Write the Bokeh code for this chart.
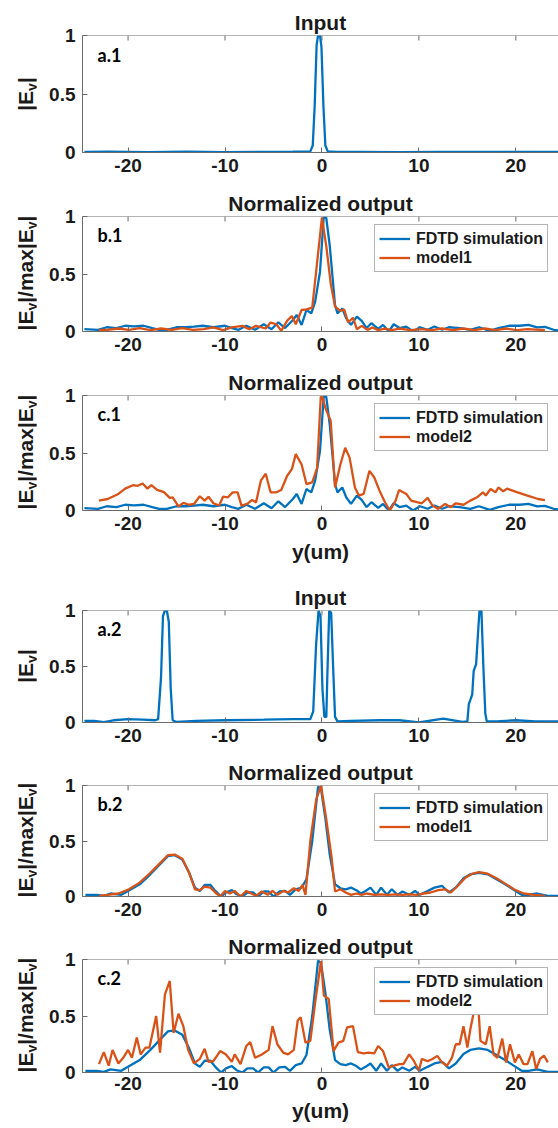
from bokeh.plotting import figure
from bokeh.models import Range1d, FixedTicker, Label, Legend, LegendItem, Span, Div
from bokeh.layouts import column, row
from bokeh.embed import file_html
from bokeh.resources import INLINE

# ---------------- data (y in um, normalized |Ey|) ----------------
x_ticks = [-20, -10, 0, 10, 20]
x_tick_labels = ["-20", "-10", "0", "10", "20"]
y_ticks = [0, 0.5, 1]
y_tick_labels = ["0", "0.5", "1"]

input1 = [(-24.5, 0.005), (-22, 0.007), (-18, 0.004), (-14, 0.008), (-10, 0.003), (-6, 0.006),
          (-3, 0.008), (-1.2, 0.01), (-0.95, 0.06), (-0.75, 0.4), (-0.55, 0.92), (-0.4, 1.0),
          (-0.2, 1.0), (-0.05, 0.9), (0.15, 0.4), (0.35, 0.06), (0.6, 0.01), (1.5, 0.005),
          (4, 0.006), (8, 0.004), (12, 0.006), (16, 0.005), (20, 0.006), (24.6, 0.004)]

fdtd1 = [(-24.5, 0.02), (-23.1, 0.015), (-22.2, 0.037), (-21.2, 0.03), (-20.3, 0.05), (-19.4, 0.045),
         (-18.4, 0.05), (-17.5, 0.03), (-16.8, 0.015), (-16.0, 0.015), (-15.0, 0.037), (-14.1, 0.037),
         (-13.2, 0.043), (-12.3, 0.05), (-11.2, 0.037), (-10.0, 0.05), (-9.3, 0.03), (-8.6, 0.015),
         (-7.8, 0.05), (-6.9, 0.015), (-6.0, 0.063), (-5.2, 0.02), (-4.5, 0.08), (-3.8, 0.03),
         (-3.0, 0.1), (-2.6, 0.144), (-2.1, 0.057), (-1.6, 0.187), (-1.1, 0.158), (-0.7, 0.26),
         (-0.2, 0.52), (0.18, 0.99), (0.44, 0.99), (0.8, 0.75), (1.35, 0.23), (1.6, 0.158),
         (2.1, 0.2), (2.5, 0.115), (3.0, 0.057), (3.6, 0.13), (4.1, 0.092), (4.6, 0.03),
         (5.1, 0.072), (5.8, 0.023), (6.3, 0.057), (6.9, 0.0), (7.4, 0.063), (8.0, 0.03),
         (8.7, 0.043), (9.4, 0.0), (10.1, 0.037), (10.9, 0.015), (11.6, 0.043), (12.4, 0.015),
         (13.1, 0.037), (14.2, 0.03), (15.3, 0.015), (16.2, 0.037), (17.3, 0.006), (18.2, 0.03),
         (19.3, 0.05), (20.4, 0.05), (21.3, 0.057), (22.2, 0.035), (23.0, 0.04), (23.9, 0.015),
         (24.6, 0.006)]

model1_1 = [(-23.0, 0.014), (-22.1, 0.014), (-21.0, 0.026), (-19.9, 0.014), (-18.8, 0.029),
            (-17.7, 0.012), (-16.6, 0.026), (-15.5, 0.014), (-14.4, 0.029), (-13.3, 0.014),
            (-12.2, 0.02), (-11.2, 0.035), (-10.2, 0.012), (-9.3, 0.035), (-8.2, 0.049),
            (-7.5, 0.02), (-6.8, 0.049), (-5.8, 0.026), (-5.3, 0.078), (-4.7, 0.063),
            (-4.2, 0.006), (-3.6, 0.092), (-3.1, 0.135), (-2.7, 0.063), (-2.1, 0.187),
            (-1.6, 0.193), (-1.0, 0.207), (-0.5, 0.6), (0.0, 0.99), (0.45, 0.74), (0.9, 0.42),
            (1.35, 0.216), (1.9, 0.18), (2.3, 0.19), (2.7, 0.078), (3.2, 0.12), (3.6, 0.02),
            (4.1, 0.049), (4.7, 0.014), (5.2, 0.035), (5.8, 0.012), (6.5, 0.026), (7.2, 0.012),
            (8.0, 0.026), (9.1, 0.012), (10.2, 0.02), (11.3, 0.012), (12.4, 0.026), (13.5, 0.012),
            (14.6, 0.026), (15.7, 0.012), (16.8, 0.026), (17.9, 0.012), (19.0, 0.026),
            (20.1, 0.012), (21.2, 0.02), (23.0, 0.012)]

model2_1 = [(-23.0, 0.086), (-22.1, 0.10), (-21.0, 0.144), (-20.3, 0.19), (-19.5, 0.22), (-19.0, 0.215),
            (-18.5, 0.235), (-18.0, 0.19), (-17.6, 0.22), (-17.0, 0.18), (-16.3, 0.16), (-15.7, 0.11),
            (-15.4, 0.115), (-14.8, 0.035), (-14.3, 0.066), (-13.7, 0.05), (-13.2, 0.057),
            (-12.6, 0.124), (-12.1, 0.086), (-11.7, 0.12), (-11.2, 0.063), (-10.6, 0.043),
            (-10.2, 0.12), (-9.7, 0.115), (-9.2, 0.158), (-8.7, 0.158), (-8.3, 0.043), (-7.7, 0.057),
            (-7.2, 0.092), (-6.8, 0.069), (-6.3, 0.26), (-5.8, 0.32), (-5.3, 0.158), (-4.7, 0.158),
            (-4.2, 0.178), (-3.6, 0.30), (-3.1, 0.36), (-2.7, 0.49), (-2.1, 0.40), (-1.6, 0.23),
            (-1.0, 0.244), (-0.5, 0.37), (-0.12, 0.99), (0.07, 0.98), (0.36, 0.89), (0.9, 0.78),
            (1.35, 0.2), (1.9, 0.40), (2.4, 0.546), (2.85, 0.46), (3.4, 0.2), (3.8, 0.13),
            (4.3, 0.144), (4.9, 0.345), (5.4, 0.287), (5.95, 0.17), (6.5, 0.072), (7.0, 0.0),
            (7.6, 0.086), (7.95, 0.178), (8.7, 0.144), (9.2, 0.086), (9.8, 0.072), (10.3, 0.063),
            (10.9, 0.11), (11.4, 0.043), (12.0, 0.014), (12.7, 0.057), (13.3, 0.029), (13.8, 0.063),
            (14.6, 0.05), (15.3, 0.086), (16.0, 0.115), (16.6, 0.158), (16.9, 0.13), (17.4, 0.187),
            (17.9, 0.158), (18.2, 0.2), (18.7, 0.167), (19.1, 0.19), (20.1, 0.16), (21.2, 0.13),
            (22.3, 0.1), (23.0, 0.09)]

input2 = [(-24.5, 0.015), (-23.5, 0.015), (-22.5, 0.003), (-21.5, 0.02), (-20, 0.03), (-18.5, 0.025),
          (-17.2, 0.02), (-16.9, 0.03), (-16.6, 0.4), (-16.4, 0.95), (-16.2, 1.0), (-16.0, 1.0),
          (-15.8, 0.9), (-15.6, 0.3), (-15.4, 0.02), (-15, 0.005), (-13, 0.015), (-10, 0.02),
          (-6, 0.025), (-3, 0.03), (-1.2, 0.03), (-0.9, 0.1), (-0.6, 0.7), (-0.35, 1.0),
          (-0.15, 0.95), (0.05, 0.3), (0.25, 0.05), (0.45, 0.05), (0.55, 0.4), (0.75, 1.0),
          (0.95, 0.98), (1.15, 0.5), (1.35, 0.05), (1.6, 0.01), (3, 0.015), (6, 0.02), (8, 0.02),
          (10, 0.0), (12.5, 0.035), (14.5, 0.005), (15.0, 0.01), (15.15, 0.165), (15.3, 0.2),
          (15.5, 0.25), (15.65, 0.46), (15.9, 0.52), (16.1, 0.8), (16.25, 1.0), (16.45, 1.0),
          (16.65, 0.5), (16.85, 0.08), (17.0, 0.01), (18, 0.01), (20, 0.02), (22, 0.01), (24.6, 0.01)]

fdtd2 = [(-24.4, 0.015), (-23.2, 0.015), (-22.5, 0.006), (-21.8, 0.027), (-20.7, 0.015), (-20.0, 0.05),
         (-18.8, 0.11), (-17.7, 0.2), (-16.6, 0.3), (-15.9, 0.363), (-15.2, 0.372), (-14.4, 0.333),
         (-13.7, 0.214), (-13.1, 0.08), (-12.6, 0.05), (-12.1, 0.104), (-11.5, 0.104), (-11.0, 0.05),
         (-10.4, 0.0), (-9.9, 0.036), (-9.3, 0.057), (-8.8, 0.02), (-8.2, 0.0), (-7.7, 0.036),
         (-7.1, 0.036), (-6.6, 0.0), (-6.0, 0.045), (-5.5, 0.045), (-5.0, 0.0), (-4.4, 0.045),
         (-3.8, 0.05), (-3.3, 0.015), (-2.7, 0.065), (-2.1, 0.08), (-1.6, 0.155), (-1.0, 0.5),
         (-0.4, 0.99), (-0.1, 0.97), (0.36, 0.7), (0.8, 0.38), (1.35, 0.11), (1.9, 0.074),
         (2.45, 0.065), (3.0, 0.08), (3.55, 0.057), (4.0, 0.027), (4.5, 0.05), (5.0, 0.08),
         (5.6, 0.015), (6.1, 0.08), (6.7, 0.015), (7.2, 0.065), (7.8, 0.015), (8.3, 0.045),
         (9.0, 0.015), (9.6, 0.05), (10.1, 0.015), (10.9, 0.05), (11.6, 0.08), (12.4, 0.095),
         (13.1, 0.036), (13.8, 0.08), (14.6, 0.164), (15.3, 0.2), (16.2, 0.214), (17.1, 0.2),
         (18.0, 0.155), (18.9, 0.11), (19.7, 0.065), (20.6, 0.015), (21.3, 0.015), (22.2, 0.027),
         (23.3, 0.006), (24.6, 0.006)]

model1_2 = [(-23.0, 0.006), (-22.1, 0.015), (-21.0, 0.027), (-19.9, 0.065), (-18.8, 0.125),
            (-17.7, 0.214), (-16.6, 0.31), (-15.9, 0.372), (-15.2, 0.378), (-14.4, 0.34),
            (-13.7, 0.214), (-13.1, 0.065), (-12.6, 0.057), (-12.1, 0.09), (-11.5, 0.08),
            (-11.0, 0.036), (-10.5, 0.0), (-10.0, 0.05), (-9.5, 0.027), (-9.0, 0.05), (-8.4, 0.0),
            (-7.8, 0.05), (-7.3, 0.027), (-6.8, 0.006), (-6.2, 0.045), (-5.6, 0.015), (-5.1, 0.05),
            (-4.6, 0.015), (-4.0, 0.05), (-3.5, 0.036), (-2.9, 0.074), (-2.4, 0.05), (-2.0, 0.104),
            (-1.7, 0.015), (-1.2, 0.5), (-0.6, 0.87), (-0.1, 1.0), (0.44, 0.7), (1.0, 0.35),
            (1.35, 0.045), (1.9, 0.065), (2.45, 0.036), (3.0, 0.015), (3.55, 0.027), (4.1, 0.015),
            (4.6, 0.027), (5.4, 0.015), (6.1, 0.02), (6.8, 0.015), (7.6, 0.02), (8.3, 0.015),
            (9.0, 0.02), (9.8, 0.015), (10.5, 0.027), (11.2, 0.036), (12.0, 0.057), (12.7, 0.065),
            (13.3, 0.036), (14.0, 0.095), (14.8, 0.17), (15.5, 0.205), (16.2, 0.22), (17.1, 0.205),
            (18.0, 0.164), (18.9, 0.116), (19.8, 0.065), (20.8, 0.027), (21.9, 0.015), (23.0, 0.006)]

model2_2 = [(-23.0, 0.074), (-22.5, 0.18), (-22.0, 0.06), (-21.6, 0.2), (-21.0, 0.08), (-20.5, 0.13),
            (-20.0, 0.2), (-19.6, 0.13), (-19.1, 0.31), (-18.7, 0.16), (-18.2, 0.22), (-17.8, 0.22),
            (-17.1, 0.5), (-16.7, 0.176), (-16.2, 0.69), (-15.7, 0.81), (-15.3, 0.35), (-14.8, 0.52),
            (-14.3, 0.41), (-13.8, 0.2), (-13.2, 0.08), (-12.6, 0.12), (-12.1, 0.21), (-11.7, 0.094),
            (-11.2, 0.1), (-10.5, 0.19), (-9.9, 0.16), (-9.3, 0.094), (-9.0, 0.16), (-8.4, 0.074),
            (-7.8, 0.235), (-7.4, 0.27), (-6.9, 0.13), (-6.2, 0.16), (-5.5, 0.2), (-5.1, 0.41),
            (-4.6, 0.25), (-4.0, 0.176), (-3.5, 0.16), (-2.9, 0.2), (-2.5, 0.46), (-2.2, 0.49),
            (-1.7, 0.265), (-1.2, 0.28), (-0.7, 0.62), (-0.1, 0.985), (0.2, 0.68), (0.7, 0.65),
            (1.2, 0.19), (1.7, 0.265), (2.2, 0.28), (2.6, 0.40), (3.2, 0.41), (3.7, 0.18),
            (4.3, 0.17), (4.8, 0.176), (5.4, 0.17), (5.8, 0.235), (6.3, 0.19), (6.9, 0.044),
            (7.4, 0.06), (8.0, 0.074), (8.4, 0.074), (9.0, 0.16), (9.5, 0.10), (10.0, 0.015),
            (10.3, 0.12), (10.9, 0.10), (11.4, 0.12), (11.9, 0.147), (12.4, 0.088), (12.9, 0.06),
            (13.4, 0.13), (13.8, 0.25), (14.2, 0.25), (14.6, 0.41), (15.0, 0.22), (15.3, 0.38),
            (15.7, 0.55), (16.1, 0.62), (16.35, 0.28), (16.9, 0.25), (17.3, 0.41), (17.7, 0.16),
            (18.1, 0.13), (18.6, 0.3), (19.0, 0.088), (19.4, 0.25), (19.9, 0.088), (20.3, 0.16),
            (20.8, 0.074), (21.2, 0.074), (21.7, 0.19), (22.1, 0.03), (22.5, 0.12), (22.9, 0.15),
            (23.3, 0.09)]

# ---------------- style ----------------
BLUE = "#0072BD"
ORANGE = "#D95319"
FRAME = "#6b6b6b"
TXT = "#1a1a1a"
FONT = "Liberation Sans"
X0, X1 = -24.7, 24.4
PX_PER_UNIT = 476.0 / (X1 - X0)
DW = 36          # width of the y-label column
W = 558 - DW     # figure width
BL = 82 - DW     # left border of figure -> frame starts at x=82

SUB = '<sub style="font-size:14px;line-height:0;vertical-align:-4px;">y</sub>'
YL_A = f"|E{SUB}|"
YL_B = f"|E{SUB}|/max|E{SUB}|"


def ylabel_div(fig_h, top, H, html_text):
    cy = top + H / 2.0
    html = (f'<div style="position:relative;width:{DW}px;height:{fig_h}px;">'
            f'<div style="position:absolute;left:24.5px;top:{cy}px;'
            f'transform:translate(-50%,-50%) rotate(-90deg);white-space:nowrap;'
            f"font-family:'Liberation Sans',Arial,sans-serif;font-weight:bold;font-size:21px;"
            f'line-height:21px;color:{TXT};">{html_text}</div></div>')
    return Div(text=html, width=DW, height=fig_h, margin=0)


def make_panel(title, top, H, bottom, tag, series, ylabel_html, legend_labels=None,
               xlabel=None, tick_standoff=6, label_standoff=7):
    p = figure(width=W, height=top + H + bottom, x_range=Range1d(X0, X1), y_range=Range1d(0, 1),
               output_backend="svg", toolbar_location=None,
               min_border_left=BL, min_border_right=0, min_border_top=top, min_border_bottom=bottom,
               title=title)
    p.outline_line_color = None
    p.grid.visible = False
    p.background_fill_color = "white"
    p.border_fill_color = "white"
    p.title.align = "center"
    p.title.text_font = FONT
    p.title.text_font_size = "21px"
    p.title.text_font_style = "bold"
    p.title.text_color = TXT
    p.title.standoff = 4

    xa = p.xaxis[0]
    xa.ticker = FixedTicker(ticks=x_ticks)
    xa.major_label_overrides = dict(zip(x_ticks, x_tick_labels))
    ya = p.yaxis[0]
    ya.ticker = FixedTicker(ticks=y_ticks)
    ya.major_label_overrides = dict(zip(y_ticks, y_tick_labels))
    for ax in (xa, ya):
        ax.major_label_text_font = FONT
        ax.major_label_text_font_size = "19px"
        ax.major_label_text_font_style = "bold"
        ax.major_label_text_color = TXT
        ax.axis_line_color = FRAME
        ax.major_tick_line_color = FRAME
        ax.major_tick_in = 5
        ax.major_tick_out = 0
        ax.minor_tick_line_color = None
    xa.major_label_standoff = tick_standoff
    ya.major_label_standoff = 7
    if xlabel:
        xa.axis_label = xlabel
        xa.axis_label_text_font = FONT
        xa.axis_label_text_font_size = "21px"
        xa.axis_label_text_font_style = "bold"
        xa.axis_label_text_color = TXT
        xa.axis_label_standoff = label_standoff

    # top edge of the box with inward ticks (the right edge is cut off in the reference)
    p.add_layout(Span(location=1, dimension="width", line_color=FRAME, line_width=1))
    p.segment(x0=x_ticks, y0=[1] * len(x_ticks), x1=x_ticks, y1=[1 - 5.0 / H] * len(x_ticks),
              line_color=FRAME, line_width=1)

    renderers = []
    for data, color in series:
        xs = [d[0] for d in data]
        ys = [d[1] for d in data]
        renderers.append(p.line(xs, ys, line_color=color, line_width=2.3))

    p.add_layout(Label(x=X0 + 15 / PX_PER_UNIT, y=1 - 8.0 / H, text=tag, text_font="Lato",
                       text_font_style="bold", text_font_size="18px", text_color="black",
                       text_baseline="top", text_align="left"))

    if legend_labels:
        items = [LegendItem(label=lab, renderers=[r]) for lab, r in zip(legend_labels, renderers)]
        leg = Legend(items=items, location=(292, H - 11 - 46))
        leg.label_text_font = FONT
        leg.label_text_font_size = "16px"
        leg.label_text_font_style = "bold"
        leg.label_text_color = TXT
        leg.border_line_color = FRAME
        leg.border_line_width = 1
        leg.background_fill_color = "white"
        leg.background_fill_alpha = 1
        leg.padding = 4
        leg.spacing = 0
        leg.margin = 0
        leg.glyph_width = 31
        leg.glyph_height = 19
        leg.label_height = 19
        leg.label_standoff = 6
        p.add_layout(leg)

    return row(ylabel_div(top + H + bottom, top, H, ylabel_html), p, spacing=0)


r1 = make_panel("Input", 35, 117, 35, "a.1", [(input1, BLUE)], YL_A)
r2 = make_panel("Normalized output", 28, 116, 35, "b.1", [(fdtd1, BLUE), (model1_1, ORANGE)], YL_B,
                ["FDTD simulation", "model1"])
r3 = make_panel("Normalized output", 28, 116, 71, "c.1", [(fdtd1, BLUE), (model2_1, ORANGE)], YL_B,
                ["FDTD simulation", "model2"], xlabel="y(um)", tick_standoff=6, label_standoff=7)
r4 = make_panel("Input", 28, 113, 34, "a.2", [(input2, BLUE)], YL_A)
r5 = make_panel("Normalized output", 28, 112, 34, "b.2", [(fdtd2, BLUE), (model1_2, ORANGE)], YL_B,
                ["FDTD simulation", "model1"])
r6 = make_panel("Normalized output", 28, 114, 56, "c.2", [(fdtd2, BLUE), (model2_2, ORANGE)], YL_B,
                ["FDTD simulation", "model2"], xlabel="y(um)", tick_standoff=4, label_standoff=6)

layout = column(r1, r2, r3, r4, r5, r6, spacing=0)
open("out.html", "w").write(file_html(layout, INLINE))
